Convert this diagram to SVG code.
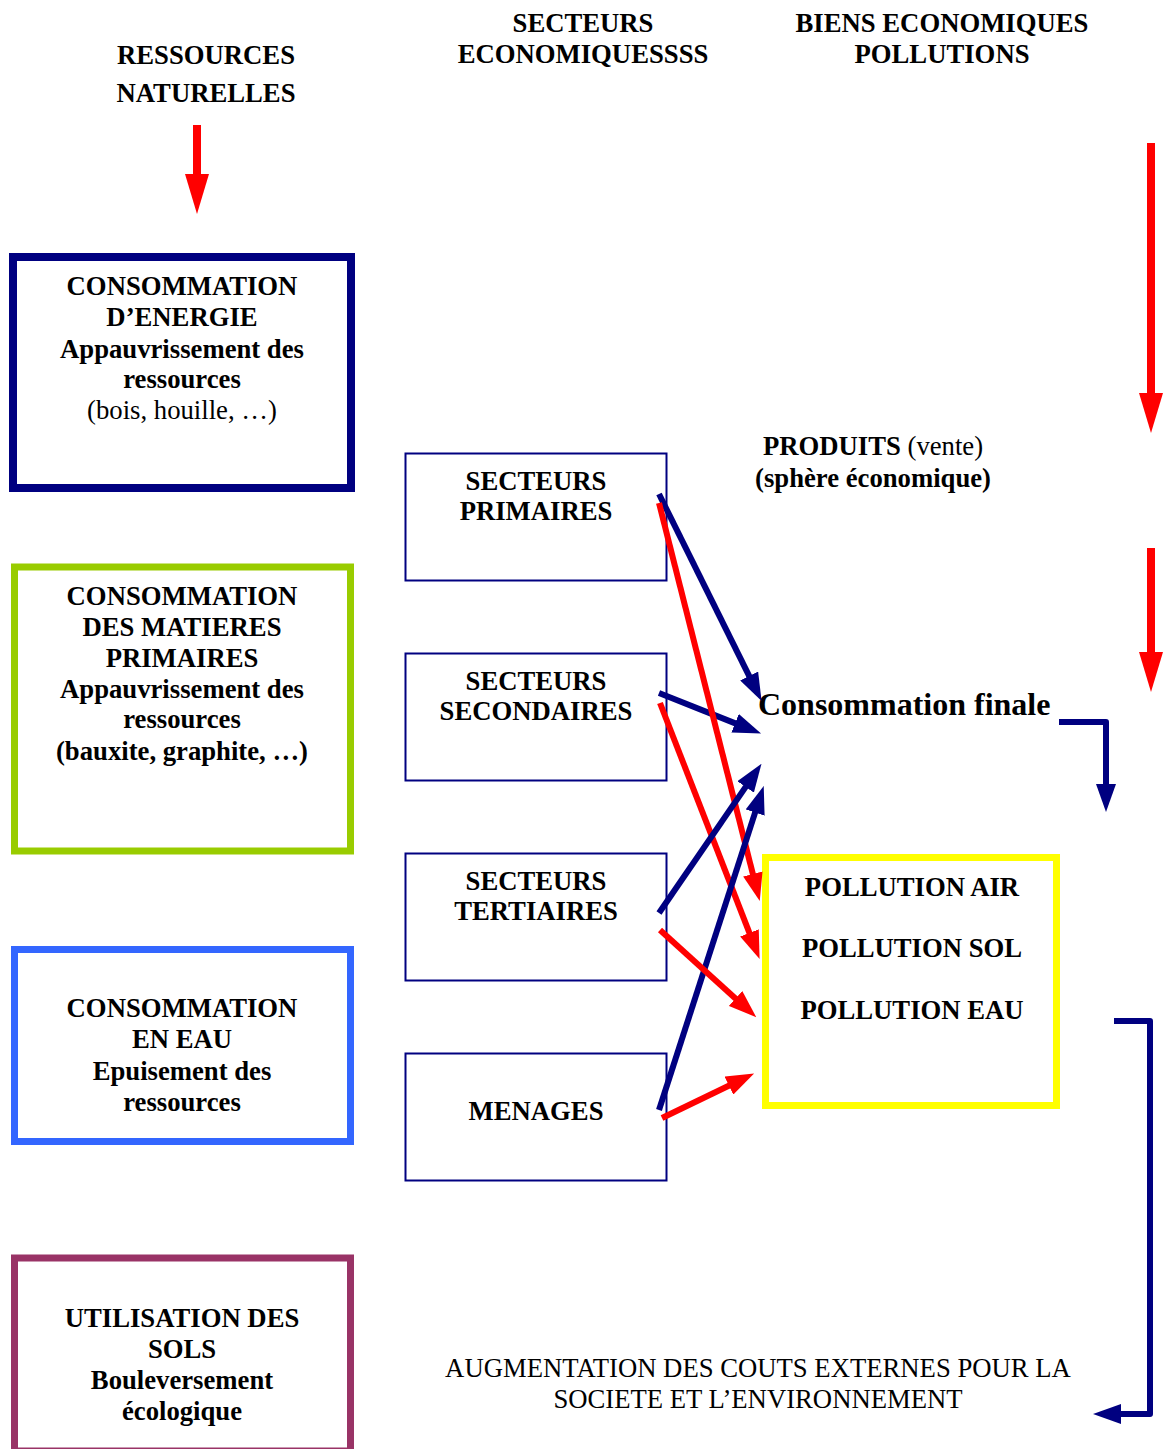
<svg xmlns="http://www.w3.org/2000/svg" width="1165" height="1449" viewBox="0 0 1165 1449">
<style>
text{font-family:"Liberation Serif","Times New Roman",serif;font-size:26.7px;fill:#000;text-anchor:middle}
.b{font-weight:bold}
.n{font-weight:normal}
.big{font-size:32px;font-weight:bold;text-anchor:start}
.sec{fill:#fff;stroke:#000080;stroke-width:2}
.blue{stroke:#000080;fill:none}
.red{stroke:#ff0000;fill:none}
</style>
<defs>
<marker id="hb" markerUnits="userSpaceOnUse" markerWidth="28" markerHeight="20" refX="1" refY="10" orient="auto"><path d="M0,0 L28,10 L0,20 z" fill="#000080"/></marker>
<marker id="hr" markerUnits="userSpaceOnUse" markerWidth="28" markerHeight="20" refX="1" refY="10" orient="auto"><path d="M0,0 L28,10 L0,20 z" fill="#ff0000"/></marker>
<marker id="hR" markerUnits="userSpaceOnUse" markerWidth="40" markerHeight="24" refX="1" refY="12" orient="auto"><path d="M0,0 L40,12 L0,24 z" fill="#ff0000"/></marker>
</defs>
<rect width="1165" height="1449" fill="#fff"/>

<g id="headers" class="b">
<text x="206" y="64">RESSOURCES</text>
<text x="206" y="102">NATURELLES</text>
<text x="583" y="32">SECTEURS</text>
<text x="583" y="63">ECONOMIQUESSSS</text>
<text x="942" y="32">BIENS ECONOMIQUES</text>
<text x="942" y="63">POLLUTIONS</text>
</g>

<g id="energie">
<rect x="13" y="257" width="338" height="231" fill="#fff" stroke="#000080" stroke-width="8"/>
<text class="b" x="182" y="295">CONSOMMATION</text>
<text class="b" x="182" y="326">D’ENERGIE</text>
<text class="b" x="182" y="358">Appauvrissement des</text>
<text class="b" x="182" y="388">ressources</text>
<text x="182" y="419">(bois, houille, …)</text>
</g>

<g id="matieres">
<rect x="14.5" y="567" width="336" height="284" fill="#fff" stroke="#99cc00" stroke-width="7"/>
<text class="b" x="182" y="605">CONSOMMATION</text>
<text class="b" x="182" y="636">DES MATIERES</text>
<text class="b" x="182" y="667">PRIMAIRES</text>
<text class="b" x="182" y="698">Appauvrissement des</text>
<text class="b" x="182" y="728">ressources</text>
<text class="b" x="182" y="760">(bauxite, graphite, …)</text>
</g>

<g id="eau">
<rect x="14.5" y="949.5" width="336" height="192" fill="#fff" stroke="#3366ff" stroke-width="7"/>
<text class="b" x="182" y="1017">CONSOMMATION</text>
<text class="b" x="182" y="1048">EN EAU</text>
<text class="b" x="182" y="1080">Epuisement des</text>
<text class="b" x="182" y="1111">ressources</text>
</g>

<g id="sols">
<rect x="14.5" y="1258" width="336" height="193" fill="#fff" stroke="#993366" stroke-width="7"/>
<text class="b" x="182" y="1327">UTILISATION DES</text>
<text class="b" x="182" y="1358">SOLS</text>
<text class="b" x="182" y="1389">Bouleversement</text>
<text class="b" x="182" y="1420">écologique</text>
</g>

<g id="primaires">
<rect class="sec" x="405.5" y="453.5" width="261" height="127"/>
<text class="b" x="536" y="490">SECTEURS</text>
<text class="b" x="536" y="520">PRIMAIRES</text>
</g>
<g id="secondaires">
<rect class="sec" x="405.5" y="653.5" width="261" height="127"/>
<text class="b" x="536" y="690">SECTEURS</text>
<text class="b" x="536" y="720">SECONDAIRES</text>
</g>
<g id="tertiaires">
<rect class="sec" x="405.5" y="853.5" width="261" height="127"/>
<text class="b" x="536" y="890">SECTEURS</text>
<text class="b" x="536" y="920">TERTIAIRES</text>
</g>
<g id="menages">
<rect class="sec" x="405.5" y="1053.5" width="261" height="127"/>
<text class="b" x="536" y="1120">MENAGES</text>
</g>

<g id="produits">
<text x="873" y="455"><tspan class="b">PRODUITS</tspan> (vente)</text>
<text class="b" x="873" y="487">(sphère économique)</text>
</g>

<g id="consommation-finale">
<text class="big" x="758" y="715">Consommation finale</text>
</g>

<g id="pollutions">
<rect x="765.5" y="857.5" width="291" height="248" fill="#fff" stroke="#ffff00" stroke-width="7"/>
<text class="b" x="912" y="896">POLLUTION AIR</text>
<text class="b" x="912" y="957">POLLUTION SOL</text>
<text class="b" x="912" y="1019">POLLUTION EAU</text>
</g>

<g id="couts">
<text x="758" y="1377">AUGMENTATION DES COUTS EXTERNES POUR LA</text>
<text x="758" y="1408">SOCIETE ET L’ENVIRONNEMENT</text>
</g>

<g id="connectors">
<line class="red" stroke-width="8" x1="197" y1="125" x2="197" y2="175" marker-end="url(#hR)"/>
<line class="red" stroke-width="8" x1="1151" y1="143" x2="1151" y2="394" marker-end="url(#hR)"/>
<line class="red" stroke-width="8" x1="1151" y1="548" x2="1151" y2="653" marker-end="url(#hR)"/>

<line class="blue" stroke-width="6" x1="659" y1="494" x2="749.6" y2="676.9" marker-end="url(#hb)"/>
<line class="blue" stroke-width="6" x1="659" y1="693" x2="736" y2="723.6" marker-end="url(#hb)"/>
<line class="red" stroke-width="6" x1="659" y1="503" x2="753.1" y2="874.9" marker-end="url(#hr)"/>
<line class="red" stroke-width="6" x1="660" y1="703" x2="749.8" y2="933.9" marker-end="url(#hr)"/>
<line class="blue" stroke-width="6" x1="659" y1="913" x2="746.2" y2="786.1" marker-end="url(#hb)"/>
<line class="blue" stroke-width="6" x1="659" y1="1110" x2="755.4" y2="811.6" marker-end="url(#hb)"/>
<line class="red" stroke-width="6" x1="660" y1="930" x2="736.3" y2="999.2" marker-end="url(#hr)"/>
<line class="red" stroke-width="6" x1="662" y1="1118" x2="729.8" y2="1085.2" marker-end="url(#hr)"/>

<polyline class="blue" stroke-width="6" stroke-linejoin="round" points="1059,722 1106,722 1106,785" marker-end="url(#hb)"/>
<polyline class="blue" stroke-width="6" stroke-linejoin="round" points="1114,1021 1150,1021 1150,1414 1120,1414" marker-end="url(#hb)"/>
</g>
</svg>
